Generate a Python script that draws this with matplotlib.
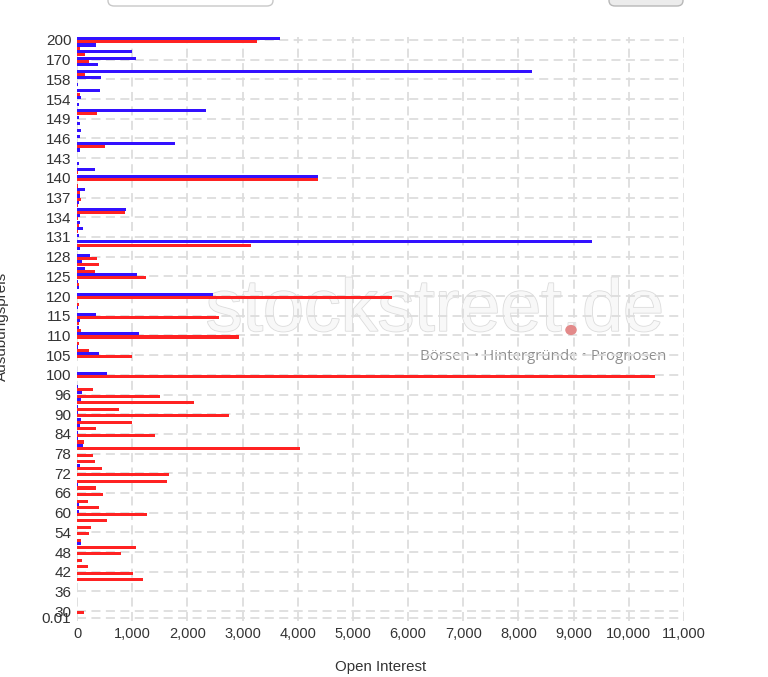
import numpy as np
import matplotlib.pyplot as plt
from matplotlib.patches import FancyBboxPatch, Circle
import matplotlib.patheffects as pe

# Ausübungspreise (oben -> unten)
strikes = ["200", "190", "180", "170", "165", "160", "158", "157", "156", "154",
           "152", "150", "149", "148", "147", "146", "145", "144", "143", "142",
           "141", "140", "139", "138", "137", "136", "135", "134", "133", "132",
           "131", "130", "129", "128", "127", "126", "125", "124", "122", "120",
           "118", "116", "115", "114", "112", "110", "108", "106", "105", "104",
           "102", "100", "98", "97", "96", "94", "92", "90", "88", "86",
           "84", "82", "80", "78", "76", "74", "72", "70", "68", "66",
           "64", "62", "60", "58", "56", "54", "52", "50", "48", "46",
           "44", "42", "40", "38", "36", "34", "32", "30", "0.01"]

# Open Interest Calls (blau)
calls = [3680, 350, 1000, 1070, 375, 8250, 440, 12, 420, 65,
         35, 2340, 30, 48, 65, 55, 1780, 48, 0, 30,
         320, 4360, 0, 140, 60, 36, 885, 55, 55, 100,
         30, 9330, 48, 240, 97, 145, 1090, 12, 30, 2470,
         0, 24, 345, 48, 30, 1120, 0, 24, 400, 0,
         0, 540, 0, 18, 85, 80, 24, 12, 67, 48,
         18, 24, 103, 0, 0, 48, 0, 0, 12, 6,
         6, 30, 30, 0, 0, 0, 0, 67, 0, 0,
         0, 0, 0, 0, 0, 0, 0, 0, 0]

# Open Interest Puts (rot)
puts = [3270, 60, 145, 210, 0, 145, 0, 0, 60, 0,
        0, 360, 0, 0, 0, 0, 510, 0, 0, 0,
        12, 4360, 18, 48, 73, 12, 865, 24, 36, 18,
        0, 3150, 0, 360, 405, 325, 1255, 30, 0, 5710,
        30, 0, 2580, 30, 67, 2940, 30, 212, 1005, 0,
        0, 10480, 0, 297, 1510, 2120, 770, 2760, 1000, 340,
        1420, 120, 4050, 285, 327, 450, 1667, 1630, 340, 480,
        195, 390, 1273, 540, 250, 212, 67, 1067, 790, 85,
        205, 1018, 1205, 0, 0, 0, 0, 120, 0]

xticks = np.arange(0, 11001, 1000)

plt.rcParams['font.family'] = ['Liberation Sans', 'DejaVu Sans']

fig = plt.figure(figsize=(7.68, 6.77), dpi=100)
ax = fig.add_axes([77/768, 1 - 621/677, (684 - 77)/768, (621 - 36.7)/677])

# Wasserzeichen
ax.text(0.59, 0.53, "stockstreet.de", transform=ax.transAxes, ha='center', va='center',
        fontsize=53, color='#f8f8f8', zorder=0,
        path_effects=[pe.withStroke(linewidth=1.2, foreground='#dcdcdc')])
fig.patches.append(Circle((571/768, 1 - 330/677), 0.0075, transform=fig.transFigure,
                          facecolor='#e38a8a', edgecolor='none', zorder=1))
ax.text(0.768, 0.452, "Börsen • Hintergründe • Prognosen", transform=ax.transAxes,
        ha='center', va='center', fontsize=10.8, color='#8f8f8f', zorder=0,
        family=['Open Sans', 'DejaVu Sans'])

y = np.arange(len(strikes))
h = 0.47
ax.barh(y - 0.24, calls, height=h, color='#3311ff', zorder=3)
ax.barh(y + 0.24, puts, height=h, color='#ff2222', zorder=3)

ticks_idx = list(range(0, len(strikes) - 1, 3)) + [len(strikes) - 1]
ax.set_yticks(ticks_idx)
ax.set_yticklabels([strikes[i] for i in ticks_idx], fontsize=11, color='#333333')
ax.set_ylim(len(strikes) - 0.5, -0.5)

ax.set_xlim(0, 11000)
ax.set_xticks(xticks)
ax.set_xticklabels([f"{v:,}" for v in xticks], fontsize=10.5, color='#333333')

ax.grid(True, color='#dddddd', linestyle=(0, (5, 3)), linewidth=1.3, zorder=0)
ax.set_axisbelow(True)
for s in ax.spines.values():
    s.set_visible(False)
ax.tick_params(length=0, pad=4)

ax.set_xlabel("Open Interest", fontsize=10.8, color='#333333', labelpad=14)
fig.text(0.002, 1 - 326/677, "Ausübungspreis", rotation=90, ha='center', va='center',
         fontsize=11, color='#333333')

# Bedienelemente oben (angeschnitten)
fig.patches.append(FancyBboxPatch((108/768, 1 - 6/677), 165/768, 20/677,
                                  boxstyle="round,pad=0,rounding_size=0.008",
                                  transform=fig.transFigure, facecolor='white',
                                  edgecolor='#c8c8c8', linewidth=1))
fig.patches.append(FancyBboxPatch((609/768, 1 - 6/677), 74/768, 20/677,
                                  boxstyle="round,pad=0,rounding_size=0.008",
                                  transform=fig.transFigure, facecolor='#ececec',
                                  edgecolor='#b8b8b8', linewidth=1))

fig.savefig("out.png", dpi=100)
